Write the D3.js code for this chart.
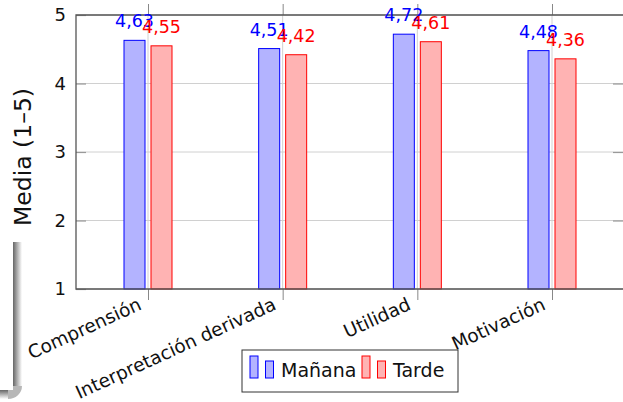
<!DOCTYPE html>
<html>
<head>
<meta charset="utf-8">
<script src="https://cdn.jsdelivr.net/npm/d3@7"></script>
<style>
  body { margin: 0; background: #fff; }
  svg { display: block; font-family: "DejaVu Sans", sans-serif; }
</style>
</head>
<body>
<div id="chart"></div>
<script>
// data
var categories = ["Comprensión", "Interpretación derivada", "Utilidad", "Motivación"];
var manana = [4.63, 4.51, 4.72, 4.48];
var tarde = [4.55, 4.42, 4.61, 4.36];
var seriesNames = ["Mañana", "Tarde"];
var yTicks = [1, 2, 3, 4, 5];

var width = 623, height = 402;
var plot = { left: 76, top: 15, bottom: 289, right: 623 };

var seriesStyle = [
    { fill: "#b3b3ff", stroke: "#0000ff", offset: -13.5, values: manana },
    { fill: "#ffb3b3", stroke: "#ff0000", offset: 13.5, values: tarde }
];
var barWidth = 21;

var svg = d3.select("#chart")
    .append("svg")
    .attr("width", width)
    .attr("height", height);

var defs = svg.append("defs");
var gv = defs.append("linearGradient").attr("id", "shadowV");
gv.append("stop").attr("offset", "0%").attr("stop-color", "#666");
gv.append("stop").attr("offset", "100%").attr("stop-color", "#fff");
var gh = defs.append("linearGradient").attr("id", "shadowH")
    .attr("x1", 0).attr("y1", 0).attr("x2", 0).attr("y2", 1);
gh.append("stop").attr("offset", "0%").attr("stop-color", "#666");
gh.append("stop").attr("offset", "100%").attr("stop-color", "#fff");

// box shadow on the left side (part of the slide)
svg.append("rect").attr("x", 13).attr("y", 242).attr("width", 9).attr("height", 144)
    .attr("fill", "url(#shadowV)");
svg.append("rect").attr("x", 0).attr("y", 390).attr("width", 8).attr("height", 9)
    .attr("fill", "url(#shadowH)");
svg.append("path")
    .attr("d", "M8,390 L8,399 A14,13 0 0 0 22,386 L13,386 A5,4 0 0 1 8,390 Z")
    .attr("fill", "#999")
    .attr("opacity", 0.7);
svg.append("rect").attr("x", 0).attr("y", 242).attr("width", 13).attr("height", 148)
    .attr("fill", "#fff");

var x = d3.scalePoint()
    .domain(categories)
    .range([148, 552]);

var y = d3.scaleLinear()
    .domain([1, 5])
    .range([plot.bottom, plot.top]);

// grid
svg.append("g")
    .selectAll("line.hgrid")
    .data(yTicks)
    .enter()
    .append("line")
    .attr("x1", plot.left).attr("x2", plot.right)
    .attr("y1", function (d) { return y(d); })
    .attr("y2", function (d) { return y(d); })
    .style("stroke", "#d0d0d0")
    .style("stroke-width", 1);

svg.append("g")
    .selectAll("line.vgrid")
    .data(categories)
    .enter()
    .append("line")
    .attr("x1", function (d) { return x(d); })
    .attr("x2", function (d) { return x(d); })
    .attr("y1", plot.top).attr("y2", plot.bottom)
    .style("stroke", "#d0d0d0")
    .style("stroke-width", 1);

// bars
seriesStyle.forEach(function (s) {
    svg.append("g")
        .selectAll("rect")
        .data(categories)
        .enter()
        .append("rect")
        .attr("x", function (d) { return x(d) + s.offset - barWidth / 2; })
        .attr("y", function (d, i) { return y(s.values[i]); })
        .attr("width", barWidth)
        .attr("height", function (d, i) { return y(1) - y(s.values[i]); })
        .style("fill", s.fill)
        .style("stroke", s.stroke)
        .style("stroke-width", 1);
});

// axis frame
var yAxis = d3.axisLeft(y).tickValues(yTicks).tickFormat(d3.format("d")).tickSize(-10).tickPadding(10);
var gy = svg.append("g")
    .attr("transform", "translate(" + plot.left + ",0)")
    .call(yAxis);
gy.select(".domain").remove();
gy.selectAll(".tick line").style("stroke", "#999").style("stroke-width", 1.2);
gy.selectAll(".tick text")
    .style("font-size", "18px")
    .style("font-family", "DejaVu Sans")
    .attr("fill", "#111");

var yAxisR = d3.axisRight(y).tickValues(yTicks.slice(1, 4)).tickSize(-10).tickFormat("");
var gyr = svg.append("g")
    .attr("transform", "translate(" + plot.right + ",0)")
    .call(yAxisR);
gyr.select(".domain").remove();
gyr.selectAll(".tick line").style("stroke", "#999").style("stroke-width", 1.2);

var xAxis = d3.axisBottom(x).tickSize(11).tickFormat("");
var gx = svg.append("g")
    .attr("transform", "translate(0," + plot.bottom + ")")
    .call(xAxis);
gx.select(".domain").remove();
gx.selectAll(".tick line").style("stroke", "#888");

var xAxisTop = d3.axisTop(x).tickSize(11).tickFormat("");
var gxt = svg.append("g")
    .attr("transform", "translate(0," + plot.top + ")")
    .call(xAxisTop);
gxt.select(".domain").remove();
gxt.selectAll(".tick line").style("stroke", "#888");

svg.append("path")
    .attr("d", "M" + plot.right + "," + plot.top + "H" + plot.left + "V" + plot.bottom + "H" + plot.right)
    .style("fill", "none")
    .style("stroke", "#555")
    .style("stroke-width", 1.3);

// category labels
svg.append("g")
    .selectAll("text")
    .data(categories)
    .enter()
    .append("text")
    .attr("transform", function (d) { return "translate(" + (x(d) - 8) + ",303) rotate(-24.5)"; })
    .attr("text-anchor", "end")
    .attr("dy", "0.35em")
    .style("font-size", "18.5px")
    .attr("fill", "#111")
    .text(function (d) { return d; });

// value labels
var fmt = function (v) { return d3.format(".2f")(v).replace(".", ","); };
seriesStyle.forEach(function (s) {
    svg.append("g")
        .selectAll("text")
        .data(categories)
        .enter()
        .append("text")
        .attr("x", function (d) { return x(d) + s.offset; })
        .attr("y", function (d, i) { return y(s.values[i]) - 13; })
        .attr("text-anchor", "middle")
        .style("font-size", "17.5px")
        .attr("fill", s.stroke)
        .text(function (d, i) { return fmt(s.values[i]); });
});

// y axis title
svg.append("text")
    .attr("transform", "translate(31,157) rotate(-90)")
    .attr("text-anchor", "middle")
    .style("font-size", "23.5px")
    .attr("fill", "#111")
    .text("Media (1–5)");

// legend
var legend = svg.append("g").attr("transform", "translate(242,350)");
legend.append("rect")
    .attr("width", 216).attr("height", 42)
    .style("fill", "#fff")
    .style("stroke", "#333")
    .style("stroke-width", 1);

var legendX = [8, 120];
seriesStyle.forEach(function (s, i) {
    var g = legend.append("g").attr("transform", "translate(" + legendX[i] + ",0)");
    g.append("rect").attr("x", 0).attr("y", 6).attr("width", 8).attr("height", 22)
        .style("fill", s.fill).style("stroke", s.stroke);
    g.append("rect").attr("x", 15.5).attr("y", 11).attr("width", 8).attr("height", 17)
        .style("fill", s.fill).style("stroke", s.stroke);
    g.append("text")
        .attr("x", 31).attr("y", 27)
        .style("font-size", "19px")
        .attr("fill", "#111")
        .text(seriesNames[i]);
});
</script>
</body>
</html>
